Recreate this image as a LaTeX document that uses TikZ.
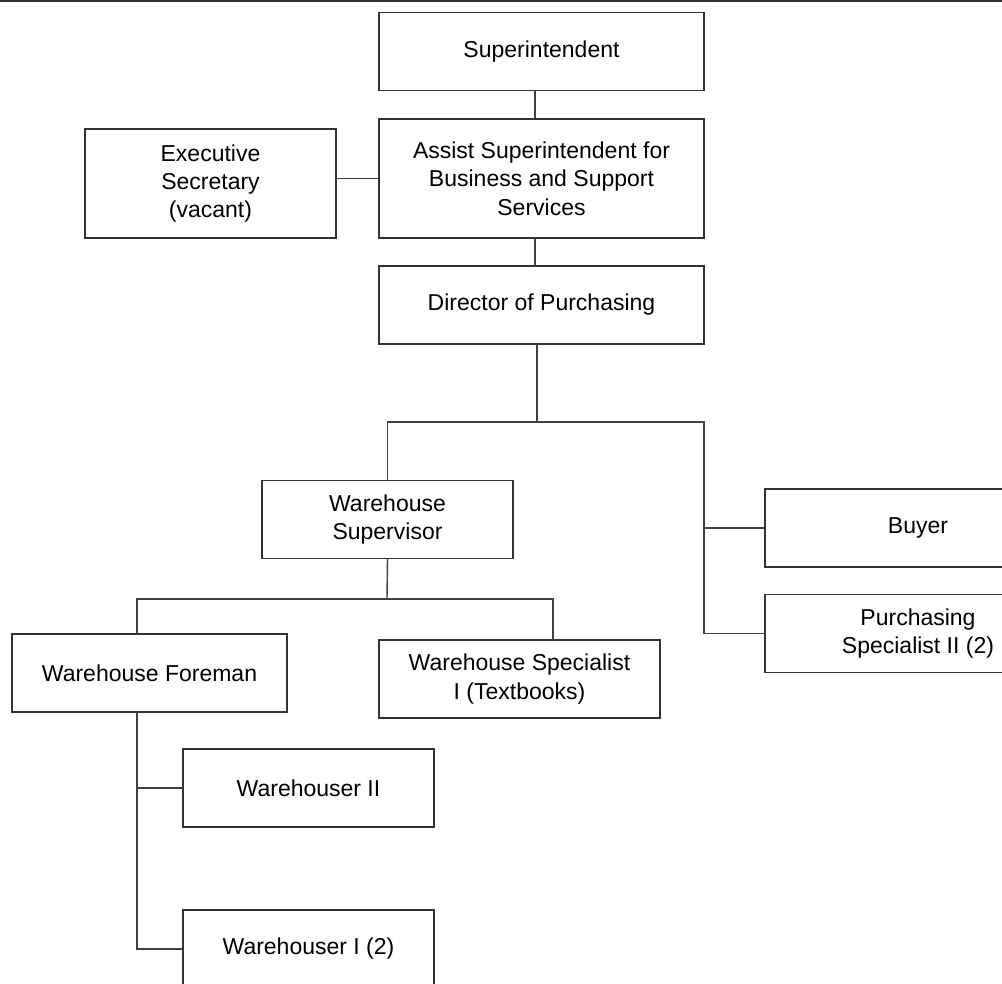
\documentclass[tikz,border=0pt]{standalone}
\usepackage{fontspec}
\setmainfont{Liberation Sans}
\usepackage{tikz}
\tikzset{
    orgnode/.style = {
        align=center,
        text centered,
        rectangle,
        draw=black!80,
        line width=0.7pt,
        font=\fontsize{11.5}{14.2}\selectfont,
        minimum width=125.5pt,
        minimum height=39pt,
        inner sep=1mm,
        outer sep=0mm
    },
    widenode/.style = {
        orgnode,
        minimum width=162.5pt
    },
    orgline/.style = {
        draw=black!75,
        line width=0.7pt
    }
}

\begin{document}
\begin{tikzpicture}[x=0.5pt, y=-0.5pt]
    \clip (0,0) rectangle (1002,984);
    \draw [line width=1pt, black!80] (0,1) -- (1002,1);

    \node [widenode] (sup) at (541.5,51.5) {Superintendent};
    \node [widenode, minimum height=59.5pt] (asst) at (541.5,178.5)
        {Assist Superintendent for\\Business and Support\\Services};
    \node [orgnode, minimum height=54.5pt] (exec) at (210.5,183.5)
        {Executive\\Secretary\\(vacant)};
    \node [widenode] (dir) at (541.5,305) {Director of Purchasing};
    \node [orgnode] (wsup) at (387.5,519.5) {Warehouse\\Supervisor};
    \node [orgnode, minimum width=153pt] (buyer) at (918,528) {Buyer};
    \node [orgnode, minimum width=153pt] (purch) at (918,633.5)
        {Purchasing\\Specialist II (2)};
    \node [orgnode, minimum width=137.5pt] (fore) at (149.5,673) {Warehouse Foreman};
    \node [orgnode, minimum width=140.5pt] (wspec) at (519.5,679)
        {Warehouse Specialist\\I (Textbooks)};
    \node [orgnode] (whtwo) at (308.5,788) {Warehouser II};
    \node [orgnode] (whone) at (308.5,949) {Warehouser I (2)};

    \coordinate (dirsplit) at (537,422);
    \coordinate (rtrunk) at (704,422);
    \coordinate (supsplit) at (387,599);
    \coordinate (ltrunk) at (137,599);
    \coordinate (spectop) at (553,599);

    \draw [orgline] ([xshift=-3.25pt]sup.south) -- ([xshift=-3.25pt]asst.north);
    \draw [orgline] (asst.west) -- (asst.west -| exec.east);
    \draw [orgline] ([xshift=-3.25pt]asst.south) -- ([xshift=-3.25pt]dir.north);
    \draw [orgline] (dirsplit |- dir.south) -- (dirsplit) -| (wsup.north);
    \draw [orgline] (dirsplit) -- (rtrunk) |- (purch.west);
    \draw [orgline] (rtrunk |- buyer.west) -- (buyer.west);
    \draw [orgline] (wsup.south) -- (supsplit);
    \draw [orgline] (ltrunk |- fore.north) -- (ltrunk) -- (spectop) -- (spectop |- wspec.north);
    \draw [orgline] (ltrunk |- fore.south) |- (whone.west);
    \draw [orgline] (ltrunk |- whtwo.west) -- (whtwo.west);
\end{tikzpicture}
\end{document}
